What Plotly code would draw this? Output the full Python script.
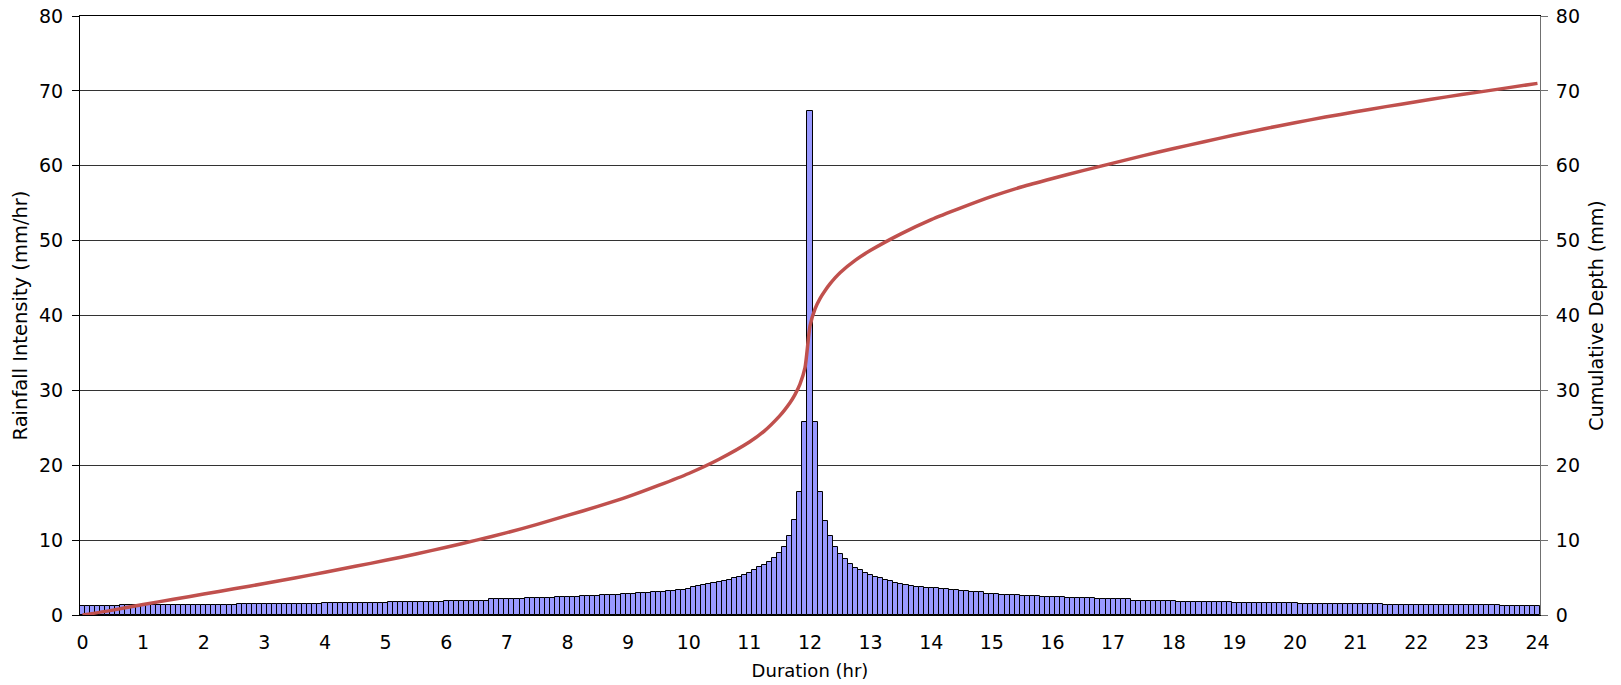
import plotly.graph_objects as go

# 5-minute time steps (hours) for the hyetograph bars
time_min = list(range(0, 1441, 5))
time_hr = [m / 60 for m in time_min]

# Rainfall intensity (mm/hr), one value per 5-minute step, grouped by hour
intensity = [
    1.2, 1.2, 1.2, 1.2, 1.2, 1.2, 1.2, 1.2, 1.38, 1.38, 1.38, 1.38,            # 0 h
    1.38, 1.38, 1.38, 1.38, 1.38, 1.38, 1.38, 1.38, 1.38, 1.38, 1.38, 1.38,    # 1 h
    1.38, 1.38, 1.38, 1.38, 1.38, 1.38, 1.38, 1.52, 1.52, 1.52, 1.52, 1.52,    # 2 h
    1.52, 1.52, 1.52, 1.52, 1.52, 1.52, 1.52, 1.52, 1.52, 1.52, 1.52, 1.52,    # 3 h
    1.65, 1.65, 1.65, 1.65, 1.65, 1.65, 1.65, 1.65, 1.65, 1.65, 1.65, 1.65,    # 4 h
    1.65, 1.79, 1.79, 1.79, 1.79, 1.79, 1.79, 1.79, 1.79, 1.79, 1.79, 1.79,    # 5 h
    1.92, 1.92, 1.92, 1.92, 1.92, 1.92, 1.92, 1.92, 1.92, 2.14, 2.14, 2.14,    # 6 h
    2.14, 2.14, 2.14, 2.14, 2.28, 2.28, 2.28, 2.28, 2.28, 2.28, 2.37, 2.37,    # 7 h
    2.37, 2.37, 2.37, 2.54, 2.54, 2.54, 2.54, 2.68, 2.68, 2.68, 2.68, 2.81,    # 8 h
    2.81, 2.81, 2.95, 2.95, 2.95, 3.08, 3.08, 3.08, 3.2, 3.2, 3.4, 3.4,        # 9 h
    3.5, 3.7, 3.84, 4.0, 4.1, 4.24, 4.37, 4.5, 4.73, 4.9, 5.13, 5.36,          # 10 h
    5.67, 6.0, 6.4, 6.7, 7.05, 7.6, 8.26, 9.06, 10.5, 12.7, 16.4, 25.8,        # 11 h
    67.3, 25.8, 16.4, 12.6, 10.5, 9.1, 8.2, 7.5, 6.8, 6.3, 5.96, 5.65,         # 12 h
    5.34, 5.07, 4.9, 4.67, 4.5, 4.3, 4.18, 4.05, 3.92, 3.78, 3.78, 3.65,       # 13 h
    3.56, 3.56, 3.43, 3.43, 3.34, 3.34, 3.2, 3.2, 3.03, 3.03, 3.03, 2.85,      # 14 h
    2.85, 2.85, 2.67, 2.67, 2.67, 2.67, 2.54, 2.54, 2.54, 2.54, 2.36, 2.36,    # 15 h
    2.36, 2.36, 2.36, 2.23, 2.23, 2.23, 2.23, 2.23, 2.23, 2.14, 2.14, 2.14,    # 16 h
    2.14, 2.14, 2.14, 2.14, 1.93, 1.93, 1.93, 1.93, 1.93, 1.93, 1.93, 1.93,    # 17 h
    1.93, 1.78, 1.78, 1.78, 1.78, 1.78, 1.78, 1.78, 1.78, 1.78, 1.78, 1.78,    # 18 h
    1.65, 1.65, 1.65, 1.65, 1.65, 1.65, 1.65, 1.65, 1.65, 1.65, 1.65, 1.65,    # 19 h
    1.65, 1.47, 1.47, 1.47, 1.47, 1.47, 1.47, 1.47, 1.47, 1.47, 1.47, 1.47,    # 20 h
    1.47, 1.47, 1.47, 1.47, 1.47, 1.47, 1.34, 1.34, 1.34, 1.34, 1.34, 1.34,    # 21 h
    1.34, 1.34, 1.34, 1.34, 1.34, 1.34, 1.34, 1.34, 1.34, 1.34, 1.34, 1.34,    # 22 h
    1.34, 1.34, 1.34, 1.34, 1.34, 1.16, 1.16, 1.16, 1.16, 1.16, 1.16, 1.16,    # 23 h
    1.16,                                                                     # 24 h
]

# Cumulative depth (mm)
cum_time_hr = [0, 0.5, 1, 1.5, 2, 2.5, 3, 3.5, 4, 4.5, 5, 5.5, 6, 6.5, 7, 7.5,
               8, 8.5, 9, 9.5, 10, 10.5, 11, 11.25, 11.5, 11.583, 11.667, 11.75,
               11.833, 11.917, 12.0, 12.083, 12.167, 12.25, 12.333, 12.417,
               12.5, 12.75, 13, 13.5, 14, 14.5, 15, 15.5, 16, 16.5, 17, 17.5,
               18, 18.5, 19, 19.5, 20, 20.5, 21, 21.5, 22, 22.5, 23, 23.5, 24]
cum_depth = [0, 0.65, 1.4, 2.1, 2.8, 3.5, 4.2, 4.95, 5.7, 6.5, 7.3, 8.15, 9.05,
             10.0, 11.0, 12.1, 13.3, 14.5, 15.8, 17.3, 18.9, 20.8, 23.1, 24.6,
             26.6, 27.4, 28.3, 29.4, 30.8, 33.0, 38.6, 40.9, 42.3, 43.35, 44.25,
             45.05, 45.75, 47.4, 48.7, 50.9, 52.8, 54.4, 55.9, 57.2, 58.3, 59.35,
             60.35, 61.35, 62.3, 63.2, 64.1, 64.95, 65.75, 66.5, 67.2, 67.9,
             68.55, 69.2, 69.8, 70.4, 71.0]

x_ticks = list(range(0, 25))
y_ticks = list(range(0, 81, 10))

FONT = "DejaVu Sans, Verdana, sans-serif"

fig = go.Figure()
fig.add_trace(go.Bar(
    x=time_hr, y=intensity, yaxis="y",
    marker=dict(color="#9999FF", line=dict(color="black", width=1)),
    showlegend=False,
))
fig.add_trace(go.Scatter(
    x=cum_time_hr, y=cum_depth, yaxis="y2", mode="lines",
    line=dict(color="#C0504D", width=3.5, shape="spline", smoothing=0.6),
    showlegend=False,
))

fig.update_layout(
    width=1621, height=685,
    margin=dict(l=80, r=81, t=16, b=70),
    paper_bgcolor="white", plot_bgcolor="white",
    bargap=0,
    font=dict(family=FONT, color="black", size=19),
    xaxis=dict(
        range=[-1 / 24, 24 + 1 / 24], automargin=False,
        tickmode="array", tickvals=x_ticks, ticktext=[str(v) for v in x_ticks],
        showgrid=False, zeroline=False,
        showline=True, linecolor="black", linewidth=1, mirror=True,
        ticks="", tickfont=dict(size=19), ticklabelstandoff=10,
        title=dict(text="Duration (hr)", font=dict(size=18), standoff=12),
    ),
    yaxis=dict(
        range=[0, 80], tickmode="array", tickvals=y_ticks, automargin=False,
        showgrid=True, gridcolor="#333333", gridwidth=1, zeroline=False,
        showline=True, linecolor="black", linewidth=1,
        ticks="outside", ticklen=7, tickcolor="black",
        tickfont=dict(size=19), ticklabelstandoff=5,
        title=dict(text="Rainfall Intensity (mm/hr)", font=dict(size=19.5), standoff=6),
    ),
    yaxis2=dict(
        range=[0, 80], tickmode="array", tickvals=y_ticks, automargin=False,
        overlaying="y", side="right", showgrid=False, zeroline=False,
        showline=True, linecolor="#707070", linewidth=1,
        ticks="outside", ticklen=7, tickcolor="#707070",
        tickfont=dict(size=19), ticklabelstandoff=4,
        title=dict(text="Cumulative Depth (mm)", font=dict(size=19), standoff=10),
    ),
)

fig.write_html("out.html")
